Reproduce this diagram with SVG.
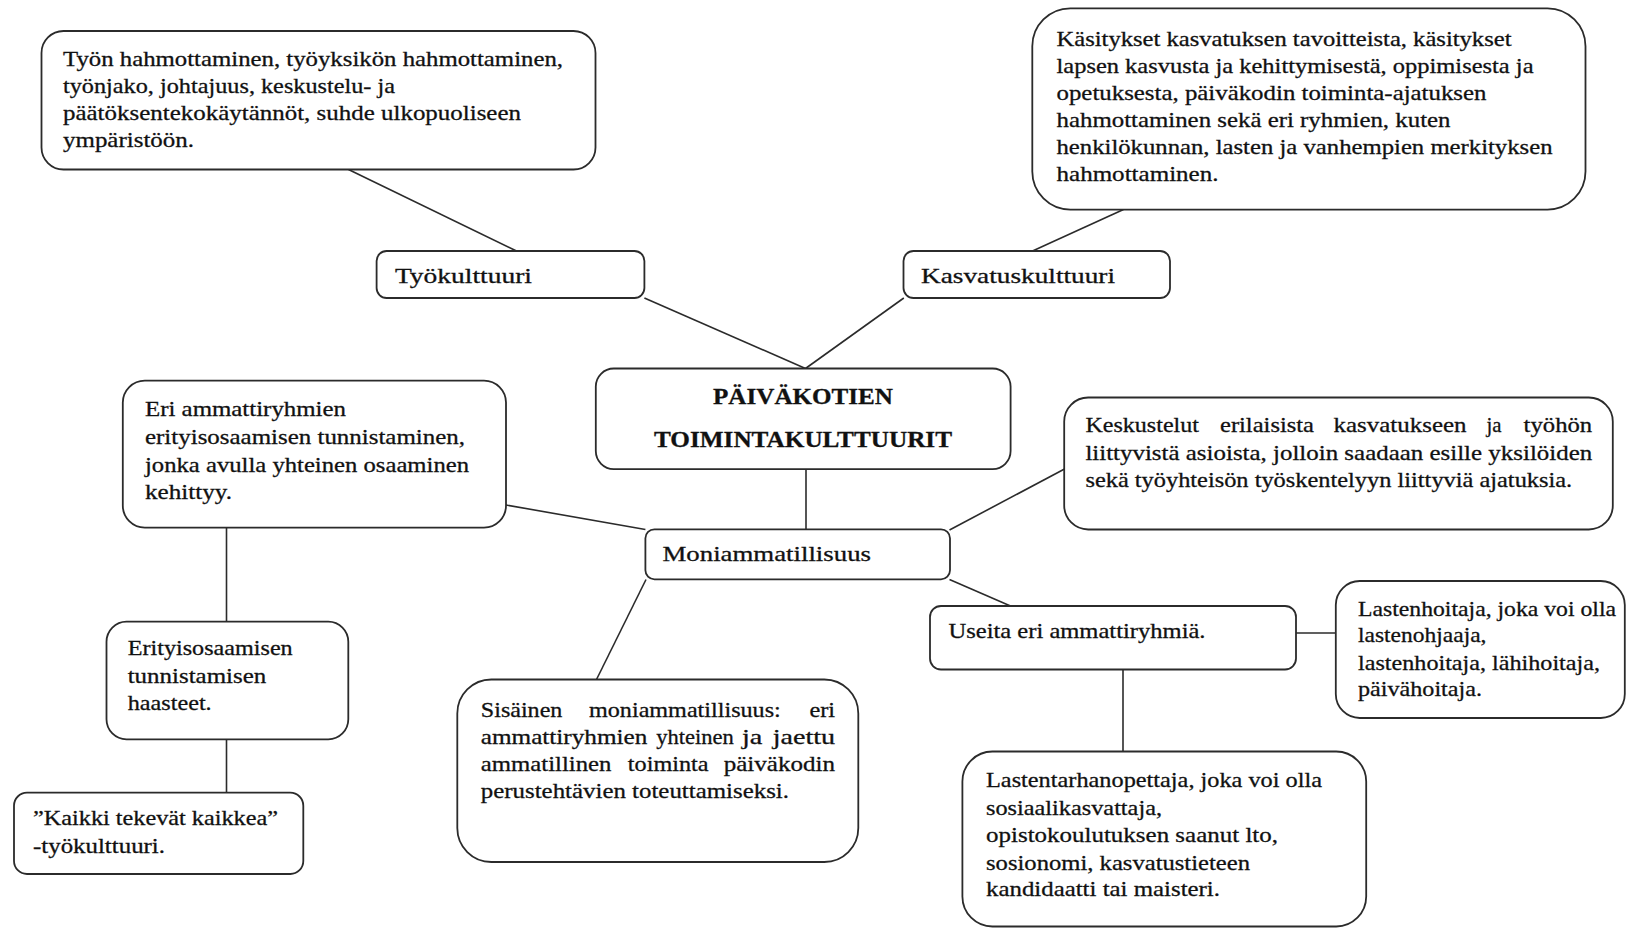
<svg xmlns="http://www.w3.org/2000/svg" width="1627" height="928" viewBox="0 0 1627 928">
<style>
.box{fill:#fff;stroke:#2b2b2b;stroke-width:1.8}
.t{font-family:"Liberation Serif","Times New Roman",serif;font-size:22px;fill:#111;stroke:#111;stroke-width:0.3}
.bold{font-weight:bold;font-size:23px}
.c{stroke:#2b2b2b;stroke-width:1.6;fill:none}
</style>
<rect width="1627" height="928" fill="#fff"/>
<g id="connectors">
<line class="c" x1="348.5" y1="169.5" x2="516.5" y2="251"/>
<line class="c" x1="1123.5" y1="209.5" x2="1032.5" y2="251"/>
<line class="c" x1="644.4" y1="298" x2="805.5" y2="368.5"/>
<line class="c" x1="903.8" y1="298" x2="805.5" y2="368.5"/>
<line class="c" x1="806" y1="469" x2="806" y2="529.3"/>
<line class="c" x1="506" y1="505" x2="645.4" y2="529.5"/>
<line class="c" x1="1064.5" y1="469" x2="949.5" y2="530"/>
<line class="c" x1="646" y1="579.5" x2="596.5" y2="679.5"/>
<line class="c" x1="949.5" y1="579.5" x2="1010.5" y2="606"/>
<line class="c" x1="1296" y1="633" x2="1335.8" y2="633"/>
<line class="c" x1="1123" y1="669" x2="1123" y2="751.5"/>
<line class="c" x1="226.5" y1="527" x2="226.5" y2="621.7"/>
<line class="c" x1="226.5" y1="739.3" x2="226.5" y2="792.7"/>
</g>
<g id="tyo-desc">
<rect class="box" x="41.5" y="31" width="554" height="138.5" rx="22"/>
<text class="t" x="63" y="66" textLength="500" lengthAdjust="spacingAndGlyphs">Työn hahmottaminen, työyksikön hahmottaminen,</text>
<text class="t" x="63" y="93" textLength="332" lengthAdjust="spacingAndGlyphs">työnjako, johtajuus, keskustelu- ja</text>
<text class="t" x="63" y="120" textLength="458" lengthAdjust="spacingAndGlyphs">päätöksentekokäytännöt, suhde ulkopuoliseen</text>
<text class="t" x="63" y="147" textLength="131" lengthAdjust="spacingAndGlyphs">ympäristöön.</text>
</g>
<g id="tyokulttuuri">
<rect class="box" x="376.6" y="251" width="267.8" height="47" rx="10"/>
<text class="t" x="395" y="283" textLength="137" lengthAdjust="spacingAndGlyphs">Työkulttuuri</text>
</g>
<g id="kasvatuskulttuuri">
<rect class="box" x="903.5" y="251" width="266.5" height="47" rx="10"/>
<text class="t" x="921" y="283" textLength="194" lengthAdjust="spacingAndGlyphs">Kasvatuskulttuuri</text>
</g>
<g id="kasvatus-desc">
<rect class="box" x="1032.3" y="8.3" width="553.2" height="201.3" rx="38"/>
<text class="t" x="1056.5" y="46" textLength="455" lengthAdjust="spacingAndGlyphs">Käsitykset kasvatuksen tavoitteista, käsitykset</text>
<text class="t" x="1056.5" y="73" textLength="477" lengthAdjust="spacingAndGlyphs">lapsen kasvusta ja kehittymisestä, oppimisesta ja</text>
<text class="t" x="1056.5" y="100" textLength="430" lengthAdjust="spacingAndGlyphs">opetuksesta, päiväkodin toiminta-ajatuksen</text>
<text class="t" x="1056.5" y="127" textLength="394" lengthAdjust="spacingAndGlyphs">hahmottaminen sekä eri ryhmien, kuten</text>
<text class="t" x="1056.5" y="154" textLength="496" lengthAdjust="spacingAndGlyphs">henkilökunnan, lasten ja vanhempien merkityksen</text>
<text class="t" x="1056.5" y="181" textLength="162" lengthAdjust="spacingAndGlyphs">hahmottaminen.</text>
</g>
<g id="center">
<rect class="box" x="595.8" y="368.5" width="414.8" height="100.6" rx="18"/>
<text class="t bold" x="803" y="404" text-anchor="middle" textLength="180" lengthAdjust="spacingAndGlyphs">PÄIVÄKOTIEN</text>
<text class="t bold" x="803" y="447" text-anchor="middle" textLength="298" lengthAdjust="spacingAndGlyphs">TOIMINTAKULTTUURIT</text>
</g>
<g id="erityisosaaminen">
<rect class="box" x="122.8" y="380.6" width="383.2" height="147" rx="22"/>
<text class="t" x="145" y="416" textLength="201" lengthAdjust="spacingAndGlyphs">Eri ammattiryhmien</text>
<text class="t" x="145" y="444" textLength="320" lengthAdjust="spacingAndGlyphs">erityisosaamisen tunnistaminen,</text>
<text class="t" x="145" y="471.5" textLength="324" lengthAdjust="spacingAndGlyphs">jonka avulla yhteinen osaaminen</text>
<text class="t" x="145" y="499" textLength="87" lengthAdjust="spacingAndGlyphs">kehittyy.</text>
</g>
<g id="keskustelut">
<rect class="box" x="1064.2" y="397.5" width="548.6" height="132" rx="24"/>
<text class="t" y="432"><tspan x="1085.4" textLength="113.6" lengthAdjust="spacingAndGlyphs">Keskustelut</tspan><tspan x="1220" textLength="94" lengthAdjust="spacingAndGlyphs">erilaisista</tspan><tspan x="1333.5" textLength="133" lengthAdjust="spacingAndGlyphs">kasvatukseen</tspan><tspan x="1486.4" textLength="15" lengthAdjust="spacingAndGlyphs">ja</tspan><tspan x="1523.6" textLength="68.6" lengthAdjust="spacingAndGlyphs">työhön</tspan></text>
<text class="t" x="1085.4" y="460" textLength="506.8" lengthAdjust="spacingAndGlyphs">liittyvistä asioista, jolloin saadaan esille yksilöiden</text>
<text class="t" x="1085.4" y="487" textLength="486.8" lengthAdjust="spacingAndGlyphs">sekä työyhteisön työskentelyyn liittyviä ajatuksia.</text>
</g>
<g id="moniammatillisuus">
<rect class="box" x="645.4" y="529.3" width="304.6" height="50" rx="9"/>
<text class="t" x="662.5" y="561" textLength="208.5" lengthAdjust="spacingAndGlyphs">Moniammatillisuus</text>
</g>
<g id="useita">
<rect class="box" x="930" y="606" width="366" height="63.5" rx="11"/>
<text class="t" x="948.5" y="637.5" textLength="257" lengthAdjust="spacingAndGlyphs">Useita eri ammattiryhmiä.</text>
</g>
<g id="lastenhoitaja">
<rect class="box" x="1335.8" y="581" width="289" height="137" rx="24"/>
<text class="t" x="1358" y="616" textLength="258" lengthAdjust="spacingAndGlyphs">Lastenhoitaja, joka voi olla</text>
<text class="t" x="1358" y="642" textLength="128.5" lengthAdjust="spacingAndGlyphs">lastenohjaaja,</text>
<text class="t" x="1358" y="669.5" textLength="242" lengthAdjust="spacingAndGlyphs">lastenhoitaja, lähihoitaja,</text>
<text class="t" x="1358" y="696" textLength="124" lengthAdjust="spacingAndGlyphs">päivähoitaja.</text>
</g>
<g id="haasteet">
<rect class="box" x="106.5" y="621.7" width="241.8" height="117.6" rx="20"/>
<text class="t" x="127.7" y="655" textLength="165" lengthAdjust="spacingAndGlyphs">Erityisosaamisen</text>
<text class="t" x="127.7" y="682.5" textLength="138.6" lengthAdjust="spacingAndGlyphs">tunnistamisen</text>
<text class="t" x="127.7" y="710" textLength="84" lengthAdjust="spacingAndGlyphs">haasteet.</text>
</g>
<g id="kaikki">
<rect class="box" x="14" y="792.7" width="289.3" height="81.3" rx="13"/>
<text class="t" x="33" y="825" textLength="245" lengthAdjust="spacingAndGlyphs">”Kaikki tekevät kaikkea”</text>
<text class="t" x="33" y="852.5" textLength="132" lengthAdjust="spacingAndGlyphs">-työkulttuuri.</text>
</g>
<g id="sisainen">
<rect class="box" x="457.3" y="679.5" width="401" height="182.5" rx="34"/>
<text class="t" y="717"><tspan x="480.8" textLength="81.6" lengthAdjust="spacingAndGlyphs">Sisäinen</tspan><tspan x="589" textLength="191.8" lengthAdjust="spacingAndGlyphs">moniammatillisuus:</tspan><tspan x="809.4" textLength="25.7" lengthAdjust="spacingAndGlyphs">eri</tspan></text>
<text class="t" y="744"><tspan x="480.8" textLength="166.5" lengthAdjust="spacingAndGlyphs">ammattiryhmien</tspan><tspan x="656.3" textLength="77.6" lengthAdjust="spacingAndGlyphs">yhteinen</tspan><tspan x="742" textLength="20.4" lengthAdjust="spacingAndGlyphs">ja</tspan><tspan x="772.7" textLength="62.4" lengthAdjust="spacingAndGlyphs">jaettu</tspan></text>
<text class="t" y="771"><tspan x="480.8" textLength="130.6" lengthAdjust="spacingAndGlyphs">ammatillinen</tspan><tspan x="627.8" textLength="80.8" lengthAdjust="spacingAndGlyphs">toiminta</tspan><tspan x="723.7" textLength="111.4" lengthAdjust="spacingAndGlyphs">päiväkodin</tspan></text>
<text class="t" x="480.8" y="798" textLength="308.2" lengthAdjust="spacingAndGlyphs">perustehtävien toteuttamiseksi.</text>
</g>
<g id="lastentarhanopettaja">
<rect class="box" x="962.4" y="751.5" width="403.8" height="175" rx="30"/>
<text class="t" x="986" y="787" textLength="336" lengthAdjust="spacingAndGlyphs">Lastentarhanopettaja, joka voi olla</text>
<text class="t" x="986" y="815" textLength="176" lengthAdjust="spacingAndGlyphs">sosiaalikasvattaja,</text>
<text class="t" x="986" y="841.5" textLength="292" lengthAdjust="spacingAndGlyphs">opistokoulutuksen saanut lto,</text>
<text class="t" x="986" y="869.5" textLength="264" lengthAdjust="spacingAndGlyphs">sosionomi, kasvatustieteen</text>
<text class="t" x="986" y="896" textLength="234" lengthAdjust="spacingAndGlyphs">kandidaatti tai maisteri.</text>
</g>
</svg>
